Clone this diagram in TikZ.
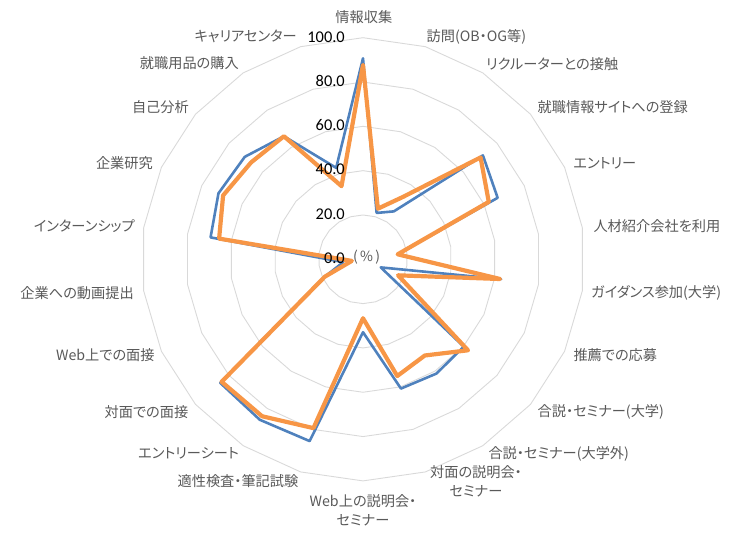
\documentclass[tikz,border=0pt]{standalone}
\usepackage{fontspec}
\setmainfont{Noto Sans CJK JP}[RawFeature=+palt]
\newfontfamily\numfont{Carlito}
\usetikzlibrary{calc}
\definecolor{gridc}{HTML}{D9D9D9}
\definecolor{labc}{HTML}{595959}
\definecolor{serA}{HTML}{4F81BD}
\definecolor{serB}{HTML}{F79646}
\begin{document}
\begin{tikzpicture}[x=1pt,y=1pt,
 gridline/.style={draw=gridc,line width=0.9pt},
 lab/.style={text=labc,font=\fontsize{14.2}{19}\selectfont,inner sep=0pt,align=center},
 tick/.style={font=\numfont\fontsize{16.4}{18}\selectfont,inner sep=0pt,anchor=east},
 serieA/.style={draw=serA,line width=2.6pt,line join=round},
 serieB/.style={draw=serB,line width=4.2pt,line join=round}]
\useasboundingbox (0,0) rectangle (737,539);
\coordinate (C) at (363,279.7);
\def\u{2.216}
\foreach \v in {20,40,60,80,100}{
  \draw[gridline] plot[samples at={0,...,21},variable=\t] ({363+\v*\u*cos(90-\t*360/22)},{279.7+\v*\u*sin(90-\t*360/22)}) -- cycle;
}
\foreach \k/\a/\b in {0/90.7/87.7, 1/21.8/23.8, 2/25.7/33.5, 3/71.6/70.2, 4/66.8/62.4,
  5/15.8/15.8, 6/63.0/62.5, 7/8.8/17.4, 8/60.2/62.7, 9/61.3/51.6, 10/60.8/54.9,
  11/32.9/26.6, 12/85.5/79.4, 13/86.1/84.2, 14/85.2/84.4, 15/19.0/19.0, 16/9.0/5.1,
  17/69.5/65.6, 18/71.7/69.4, 19/70.6/66.8, 20/66.0/66.0, 21/43.0/34.4}{
  \coordinate (a\k) at ($(C)+({90-\k*360/22}:{\a*\u})$);
  \coordinate (b\k) at ($(C)+({90-\k*360/22}:{\b*\u})$);
}
\draw[serieA] (a0) \foreach \k in {1,...,21}{-- (a\k)} -- cycle;
\draw[serieB] (b0) \foreach \k in {1,...,21}{-- (b\k)} -- cycle;
% tick labels
\node[tick] (t100) at (345,502.2) {100.0};
\node[tick] (t80) at (345,457.9) {80.0};
\node[tick] (t60) at (345,413.6) {60.0};
\node[tick] (t40) at (345,369.3) {40.0};
\node[tick] (t20) at (345,325.0) {20.0};
\node[tick] (t0) at (345,280.7) {0.0};
\node[lab,font=\fontsize{14}{15}\selectfont] (pct) at (366.7,281.7) {(\,\%\,)};
% axis labels
\node[lab] (l0) at (363.8,522.3) {情報収集};
\node[lab,anchor=west] (l1) at (426.5,502.3) {訪問(OB・OG等)};
\node[lab,anchor=west] (l2) at (486,475) {リクルーターとの接触};
\node[lab,anchor=west] (l3) at (537.5,431.7) {就職情報サイトへの登録};
\node[lab,anchor=west] (l4) at (573.3,375.7) {エントリー};
\node[lab,anchor=west] (l5) at (593.3,313.3) {人材紹介会社を利用};
\node[lab,anchor=west] (l6) at (591,246.3) {ガイダンス参加(大学)};
\node[lab,anchor=west] (l7) at (573.3,184) {推薦での応募};
\node[lab,anchor=west] (l8) at (537.5,127.3) {合説・セミナー(大学)};
\node[lab,anchor=west] (l9) at (488.3,85) {合説・セミナー(大学外)};
\node[lab] (l10) at (476,57.8) {対面の説明会・\\セミナー};
\node[lab] (l11) at (363,28.5) {Web上の説明会・\\セミナー};
\node[lab,anchor=east] (l12) at (298.5,58.3) {適性検査・筆記試験};
\node[lab,anchor=east] (l13) at (239,85.7) {エントリーシート};
\node[lab,anchor=east] (l14) at (188.5,127.3) {対面での面接};
\node[lab,anchor=east] (l15) at (154.8,184) {Web上での面接};
\node[lab,anchor=east] (l16) at (134,246.3) {企業への動画提出};
\node[lab,anchor=east] (l17) at (135,313) {インターンシップ};
\node[lab,anchor=east] (l18) at (153,375.7) {企業研究};
\node[lab,anchor=east] (l19) at (189,431.7) {自己分析};
\node[lab,anchor=east] (l20) at (239,475.7) {就職用品の購入};
\node[lab,anchor=east] (l21) at (296.8,503) {キャリアセンター};
\end{tikzpicture}
\end{document}
